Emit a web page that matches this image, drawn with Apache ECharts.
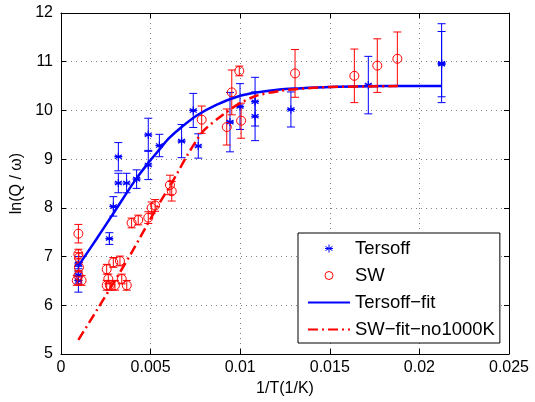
<!DOCTYPE html>
<html>
<head>
<meta charset="utf-8">
<script src="https://cdn.jsdelivr.net/npm/echarts@6/dist/echarts.min.js"></script>
<style>
html,body{margin:0;padding:0;background:#fff;}
#c{width:535px;height:402px;}
</style>
</head>
<body>
<div id="c"></div>
<script>
// Tersoff data: [1/T, ln(Q/w), error]
const tersoffX = [0.00097, 0.00097, 0.00097, 0.0027, 0.00292, 0.0032, 0.0032, 0.00366, 0.00422, 0.00487, 0.00487, 0.00549, 0.00673, 0.00738, 0.00766, 0.00943, 0.00999, 0.01083, 0.01083, 0.01283, 0.01715, 0.02124, 0.02124];
const tersoffY = [6.51, 6.62, 6.85, 7.37, 8.03, 8.51, 9.05, 8.51, 8.59, 8.88, 9.50, 9.28, 9.37, 10.00, 9.27, 9.76, 10.08, 10.18, 9.88, 10.02, 10.52, 10.97, 10.95];
const tersoffErr = [0.24, 0.18, 0.15, 0.12, 0.20, 0.20, 0.29, 0.20, 0.19, 0.30, 0.34, 0.23, 0.34, 0.35, 0.25, 0.61, 0.47, 0.50, 0.50, 0.36, 0.59, 0.81, 0.67];

// SW data
const swX = [0.00097, 0.00097, 0.00100, 0.00100, 0.00097, 0.00088, 0.00115, 0.00255, 0.00264, 0.00292, 0.00329, 0.00339, 0.00255, 0.00273, 0.00301, 0.00367, 0.00394, 0.00431, 0.00487, 0.00506, 0.00525, 0.00608, 0.00618, 0.00785, 0.00925, 0.00953, 0.00995, 0.01005, 0.01306, 0.01637, 0.01765, 0.01877];
const swY = [7.47, 7.05, 6.98, 6.78, 6.61, 6.51, 6.51, 6.74, 6.54, 6.88, 6.91, 6.54, 6.41, 6.41, 6.41, 6.41, 7.69, 7.75, 7.80, 8.00, 8.05, 8.47, 8.34, 9.81, 9.66, 10.37, 10.81, 9.79, 10.76, 10.71, 10.92, 11.06];
const swErr = [0.19, 0.10, 0.10, 0.10, 0.10, 0.10, 0.10, 0.10, 0.10, 0.10, 0.10, 0.10, 0.10, 0.10, 0.10, 0.10, 0.10, 0.10, 0.12, 0.12, 0.12, 0.20, 0.20, 0.28, 0.37, 0.46, 0.10, 0.36, 0.49, 0.55, 0.55, 0.55];

// Fit curves
const tersoffFitX = [0.00097, 0.002, 0.003, 0.00422, 0.005, 0.0055, 0.006, 0.0067, 0.0076, 0.0087, 0.0100, 0.0109, 0.0122, 0.0131, 0.0150, 0.0180, 0.02124];
const tersoffFitY = [6.81, 7.37, 7.93, 8.61, 8.98, 9.20, 9.42, 9.65, 9.90, 10.12, 10.30, 10.37, 10.43, 10.45, 10.48, 10.50, 10.50];
const swFitX = [0.00097, 0.002, 0.003, 0.004, 0.005, 0.0055, 0.006, 0.0065, 0.007, 0.0075, 0.008, 0.009, 0.0099, 0.0109, 0.0122, 0.0132, 0.0150, 0.0188];
const swFitY = [5.29, 5.90, 6.50, 7.12, 7.78, 8.10, 8.40, 8.72, 9.05, 9.35, 9.60, 9.90, 10.13, 10.30, 10.40, 10.44, 10.48, 10.50];

const xTicks = ['0', '0.005', '0.01', '0.015', '0.02', '0.025'];
const yTicks = ['5', '6', '7', '8', '9', '10', '11', '12'];

const FONT = 'Liberation Sans, Arial, Helvetica, sans-serif';
const zip3 = (a, b, c) => a.map((v, i) => [v, b[i], c[i]]);
const zip2 = (a, b) => a.map((v, i) => [v, b[i]]);

const asterisk = 'path://M0,-5L0,5M-4.33,-2.5L4.33,2.5M-4.33,2.5L4.33,-2.5M-5,0L5,0';

function errRender(color) {
  return function (params, api) {
    const x = api.value(0), y = api.value(1), e = api.value(2);
    const top = api.coord([x, y + e]);
    const bot = api.coord([x, y - e]);
    const cw = 4;
    const style = { stroke: color, lineWidth: 1 };
    return {
      type: 'group',
      children: [
        { type: 'line', shape: { x1: top[0], y1: top[1], x2: bot[0], y2: bot[1] }, style },
        { type: 'line', shape: { x1: top[0] - cw, y1: top[1], x2: top[0] + cw, y2: top[1] }, style },
        { type: 'line', shape: { x1: bot[0] - cw, y1: bot[1], x2: bot[0] + cw, y2: bot[1] }, style }
      ]
    };
  };
}

const chart = echarts.init(document.getElementById('c'), null, { renderer: 'canvas' });

const gridLine = { show: true, lineStyle: { color: '#7f7f7f', type: [1, 4], width: 1 } };

const option = {
  animation: false,
  backgroundColor: '#fff',
  textStyle: { fontFamily: FONT },
  grid: { left: 61, right: 26, top: 13, bottom: 44.5 },
  xAxis: [
    {
      type: 'value', min: 0, max: 0.025, interval: 0.005, position: 'bottom',
      name: '1/T(1/K)', nameLocation: 'middle', nameGap: 27,
      nameTextStyle: { fontFamily: FONT, fontSize: 16, color: '#000' },
      axisLine: { show: true, onZero: false, lineStyle: { color: '#000', width: 1 } },
      axisTick: { show: true, inside: true, length: 5, lineStyle: { color: '#000' } },
      axisLabel: { fontFamily: FONT, fontSize: 16, color: '#000', margin: 6,
        formatter: (v) => xTicks[Math.round(v / 0.005)] },
      splitLine: gridLine
    },
    {
      type: 'value', min: 0, max: 0.025, interval: 0.005, position: 'top',
      axisLine: { show: true, onZero: false, lineStyle: { color: '#000', width: 1 } },
      axisTick: { show: true, inside: true, length: 5, lineStyle: { color: '#000' } },
      axisLabel: { show: false }, splitLine: { show: false }
    }
  ],
  yAxis: [
    {
      type: 'value', min: 5, max: 12, interval: 1, position: 'left',
      name: 'ln(Q / ω)', nameLocation: 'middle', nameGap: 36, nameRotate: 90,
      nameTextStyle: { fontFamily: FONT, fontSize: 16, color: '#000' },
      axisLine: { show: true, onZero: false, lineStyle: { color: '#000', width: 1 } },
      axisTick: { show: true, inside: true, length: 5, lineStyle: { color: '#000' } },
      axisLabel: { fontFamily: FONT, fontSize: 16, color: '#000', margin: 8,
        formatter: (v) => yTicks[Math.round(v - 5)] },
      splitLine: gridLine
    },
    {
      type: 'value', min: 5, max: 12, interval: 1, position: 'right',
      axisLine: { show: true, onZero: false, lineStyle: { color: '#000', width: 1 } },
      axisTick: { show: true, inside: true, length: 5, lineStyle: { color: '#000' } },
      axisLabel: { show: false }, splitLine: { show: false }
    }
  ],
  legend: {
    orient: 'vertical', left: 298, top: 233,
    padding: [6, 5, 4, 9], itemGap: 8, itemWidth: 42, itemHeight: 8,
    backgroundColor: '#fff', borderColor: '#000', borderWidth: 1, borderRadius: 0,
    textStyle: { fontFamily: FONT, fontSize: 18.5, color: '#000', lineHeight: 17.5 },
    data: [
      { name: 'Tersoff', icon: asterisk, itemStyle: { color: 'none', borderColor: '#0000ff', borderWidth: 1 } },
      { name: 'SW', icon: 'circle', itemStyle: { color: '#fff', borderColor: '#ff0000', borderWidth: 1 } },
      { name: 'Tersoff−fit', itemStyle: { opacity: 0 } },
      { name: 'SW−fit−no1000K', itemStyle: { opacity: 0 } }
    ]
  },
  series: [
    {
      name: 'Tersoff', type: 'custom', xAxisIndex: 0, yAxisIndex: 0, z: 3,
      renderItem: errRender('#0000ff'), data: zip3(tersoffX, tersoffY, tersoffErr),
      encode: { x: 0, y: 1 }, silent: true
    },
    {
      name: 'SW', type: 'custom', xAxisIndex: 0, yAxisIndex: 0, z: 3,
      renderItem: errRender('#ff0000'), data: zip3(swX, swY, swErr),
      encode: { x: 0, y: 1 }, silent: true
    },
    {
      name: 'Tersoff', type: 'scatter', z: 4, symbol: asterisk, symbolSize: 8,
      itemStyle: { color: 'none', borderColor: '#0000ff', borderWidth: 1.2, opacity: 1 },
      data: zip2(tersoffX, tersoffY)
    },
    {
      name: 'SW', type: 'scatter', z: 4, symbol: 'circle', symbolSize: 9,
      itemStyle: { color: 'rgba(0,0,0,0)', borderColor: '#ff0000', borderWidth: 1, opacity: 1 },
      data: zip2(swX, swY)
    },
    {
      name: 'Tersoff−fit', type: 'line', z: 5, symbol: 'none', smooth: 0.3,
      lineStyle: { color: '#0000ff', width: 2.5 }, itemStyle: { color: '#0000ff' },
      data: zip2(tersoffFitX, tersoffFitY)
    },
    {
      name: 'SW−fit−no1000K', type: 'line', z: 5, symbol: 'none', smooth: 0.3,
      lineStyle: { color: '#ff0000', width: 2.5, type: [10, 4, 2, 4] }, itemStyle: { color: '#ff0000' },
      data: zip2(swFitX, swFitY)
    }
  ]
};
chart.setOption(option);
</script>
</body>
</html>
